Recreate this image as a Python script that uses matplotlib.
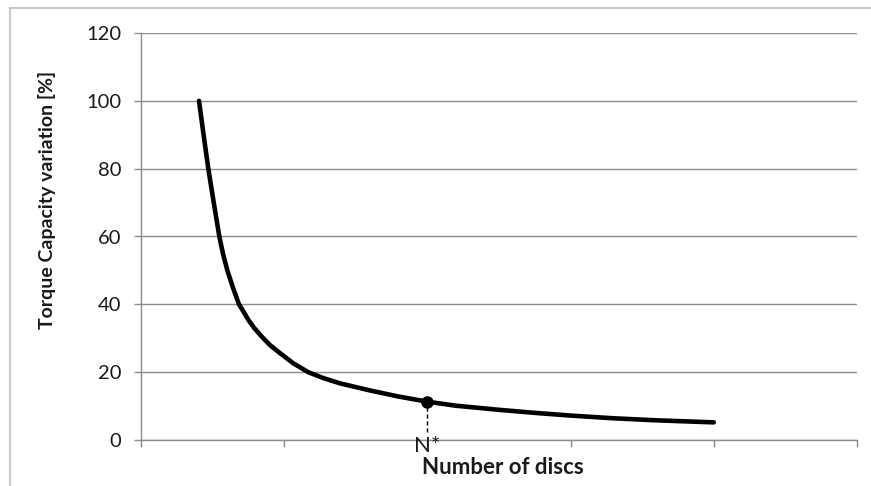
import matplotlib
matplotlib.use("Agg")
import matplotlib.pyplot as plt
from matplotlib.lines import Line2D

# Data
discs = [0.405, 0.437, 0.47, 0.508, 0.547, 0.572, 0.603, 0.640, 0.684, 0.715, 0.750,
         0.791, 0.843, 0.90, 0.971, 1.064, 1.168, 1.27, 1.39, 1.6, 1.8, 2.0, 2.2, 2.5,
         2.75, 3.0, 3.3, 3.6, 4.0]
torque = [100, 90, 80, 70, 60, 55, 50, 45.2, 40, 37.9, 35.4,
          33.0, 30.5, 28.0, 25.6, 22.6, 20, 18.3, 16.7, 14.6, 12.8, 11.3, 10.1, 8.9,
          8.0, 7.2, 6.4, 5.8, 5.2]
n_star_x = 2.0
n_star_y = 11.3
y_ticks = [0, 20, 40, 60, 80, 100, 120]
x_ticks = [0, 1, 2, 3, 4, 5]

plt.rcParams['font.family'] = ['Lato', 'DejaVu Sans']

W, H = 871, 486
fig = plt.figure(figsize=(W/100, H/100), dpi=100)
ax = fig.add_axes([141/W, 1-440/H, (857-141)/W, (440-33)/H])

grid_c = '#8c8c8c'
text_c = '#1a1a1a'
ax.set_xlim(0, 5)
ax.set_ylim(0, 120)
ax.set_yticks(y_ticks)
ax.set_xticks(x_ticks)
ax.set_xticklabels([])
ax.yaxis.grid(True, color=grid_c, linewidth=1.0)
ax.set_axisbelow(True)
for s in ['top', 'right']:
    ax.spines[s].set_visible(False)
for s in ['left', 'bottom']:
    ax.spines[s].set_color(grid_c)
    ax.spines[s].set_linewidth(1.0)
ax.tick_params(axis='both', direction='out', length=5, color=grid_c, width=1.0,
               labelsize=14.5, labelcolor=text_c, pad=9)

ax.plot(discs, torque, color='black', linewidth=3.3, solid_capstyle='round',
        solid_joinstyle='round', zorder=3)
ax.plot([n_star_x, n_star_x], [2.5, n_star_y], color='black', linewidth=1.0,
        linestyle=(0, (3, 2)), zorder=2)
ax.plot([n_star_x], [n_star_y], 'o', color='black', markersize=8, zorder=4)
ax.text(n_star_x, 1.2, 'N*', ha='center', va='top', fontsize=16, color=text_c,
        zorder=5, clip_on=False)

ax.set_ylabel('Torque Capacity variation [%]', fontsize=14, fontweight='bold',
              color=text_c)
ax.yaxis.set_label_coords((56-141)/716, (440-200)/407)
fig.text(503/W, 1-467/H, 'Number of discs', ha='center', va='center',
         fontsize=16, fontweight='bold', color=text_c)

# outer chart border (cropped on right and bottom)
border_c = '#bfbfbf'
fig.add_artist(Line2D([10/W, 1.0], [1-8/H, 1-8/H], color=border_c, linewidth=1.2,
                      transform=fig.transFigure))
fig.add_artist(Line2D([10/W, 10/W], [0, 1-8/H], color=border_c, linewidth=1.2,
                      transform=fig.transFigure))

fig.savefig('out.png', dpi=100)
